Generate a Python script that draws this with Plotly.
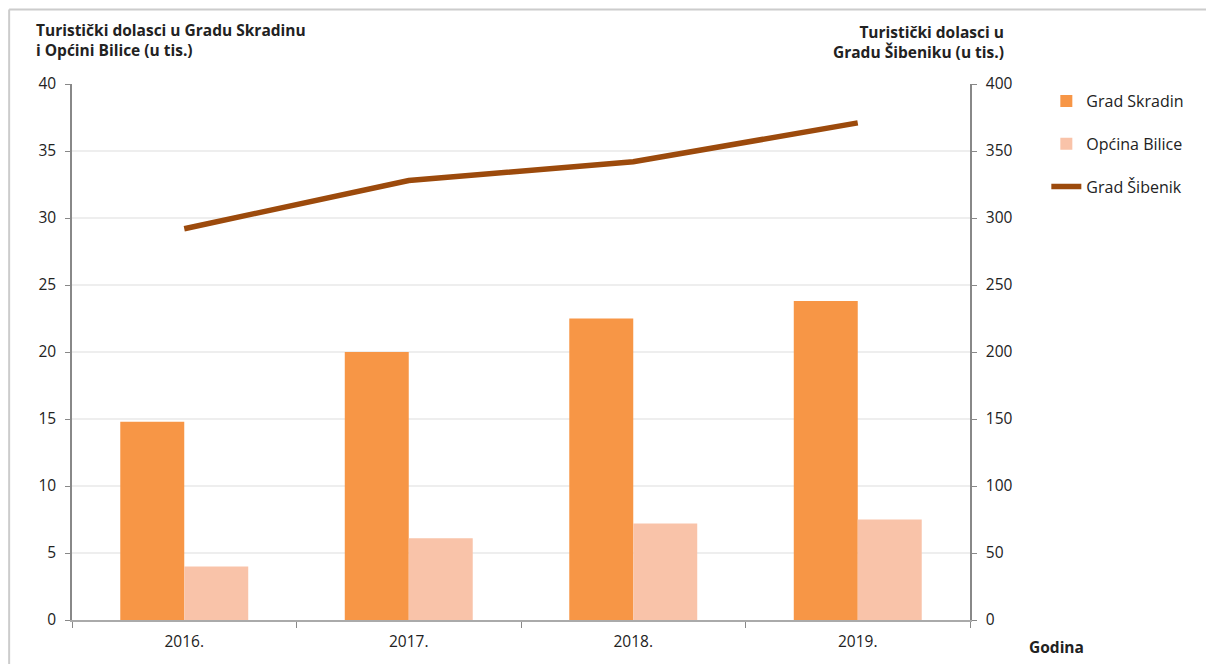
import plotly.graph_objects as go

years = ["2016.", "2017.", "2018.", "2019."]
skradin = [14.8, 20.0, 22.5, 23.8]
bilice = [4.0, 6.1, 7.2, 7.5]
sibenik = [292, 328, 342, 371]

left_ticks = [0, 5, 10, 15, 20, 25, 30, 35, 40]
right_ticks = [0, 50, 100, 150, 200, 250, 300, 350, 400]

FONT = "Open Sans"
fig = go.Figure()
fig.add_trace(go.Bar(x=years, y=skradin, name="Grad Skradin", marker_color="#f79646",
                     marker_line_width=0, legendgroup="a"))
fig.add_trace(go.Bar(x=years, y=bilice, name="Općina Bilice", marker_color="#f9c3a9",
                     marker_line_width=0, legendgroup="b"))
fig.add_trace(go.Scatter(x=years, y=sibenik, name="Grad Šibenik", mode="lines",
                         line=dict(color="#9c4a0c", width=5.5), yaxis="y2", legendgroup="c"))

fig.update_layout(
    width=1214, height=664,
    margin=dict(l=64, r=252, t=76, b=52),
    paper_bgcolor="white", plot_bgcolor="white",
    font=dict(family=FONT, size=15, color="#222"),
    barmode="group", bargap=0.43, bargroupgap=0,
    xaxis=dict(type="category", showline=True, linecolor="#aaaaaa", linewidth=2,
               ticks="outside", tickson="boundaries", ticklen=6, tickcolor="#888",
               ticklabelstandoff=6,
               showgrid=False, tickfont=dict(size=15.5)),
    yaxis=dict(range=[0, 40], tickvals=left_ticks, showline=True, linecolor="#888",
               linewidth=1.5, ticks="outside", ticklen=5, tickcolor="#888",
               ticklabelstandoff=6,
               gridcolor="#eeeeee", gridwidth=1.5, zeroline=False, tickfont=dict(size=15.5)),
    yaxis2=dict(range=[0, 400], tickvals=right_ticks, overlaying="y", side="right",
                showline=True, linecolor="#888", linewidth=1.5, ticks="outside",
                ticklen=5, tickcolor="#888", showgrid=False, zeroline=False,
                ticklabelstandoff=6,
                tickfont=dict(size=15.5)),
    legend=dict(x=1.085, y=1.0, xanchor="left", yanchor="top", tracegroupgap=19,
                font=dict(size=16), bgcolor="rgba(0,0,0,0)"),
    showlegend=True,
)

fig.add_annotation(xref="paper", yref="paper", x=-0.042, y=1.125, xanchor="left", yanchor="top",
                   text="<b>Turistički dolasci u Gradu Skradinu<br>i Općini Bilice (u tis.)</b>",
                   showarrow=False, align="left", font=dict(size=15.5))
fig.add_annotation(xref="paper", yref="paper", x=1.04, y=1.035, xanchor="right", yanchor="bottom",
                   text="<b>Turistički dolasci u<br>Gradu Šibeniku (u tis.)</b>",
                   showarrow=False, align="right", font=dict(size=15.5))
fig.add_annotation(xref="paper", yref="paper", x=1.063, y=-0.026, xanchor="left", yanchor="top",
                   text="<b>Godina</b>", showarrow=False, font=dict(size=15.5))

# outer frame (top and left edges)
fig.add_shape(type="line", xref="paper", yref="paper", x0=-0.07, x1=1.3, y0=1.139, y1=1.139,
              line=dict(color="#cccccc", width=2))
fig.add_shape(type="line", xref="paper", yref="paper", x0=-0.07, x1=-0.07, y0=1.139, y1=-0.1,
              line=dict(color="#cccccc", width=2))

fig.write_html("out.html")
